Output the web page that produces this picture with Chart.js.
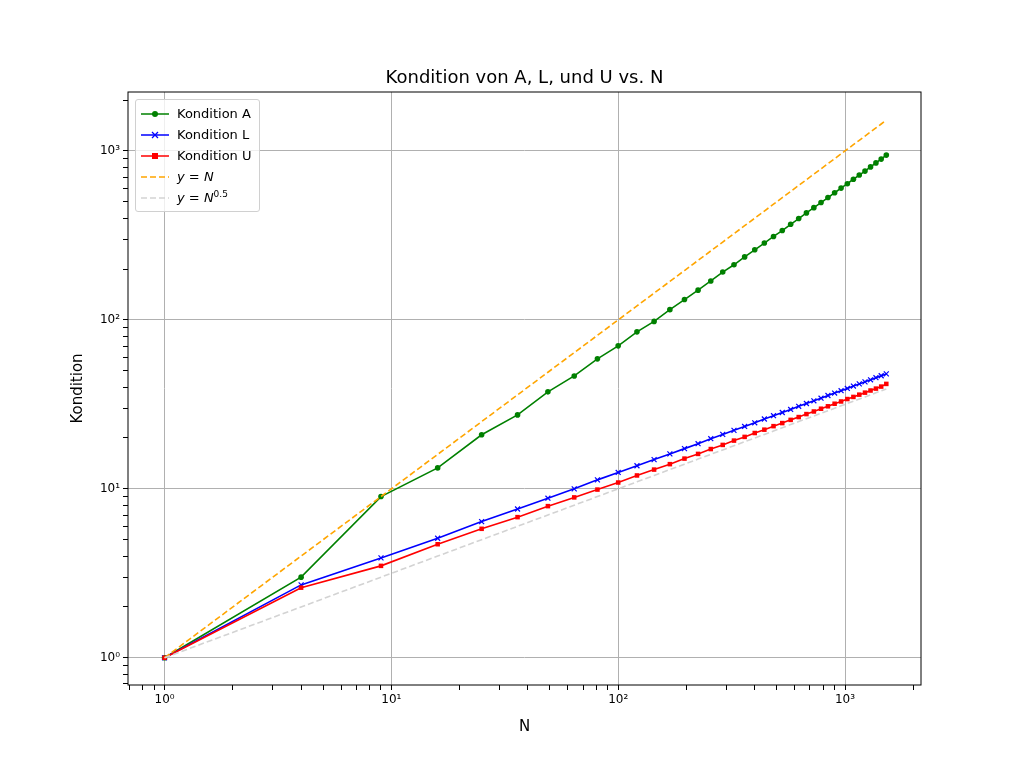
<!DOCTYPE html>
<html>
<head>
<meta charset="utf-8">
<script src="https://cdn.jsdelivr.net/npm/chart.js@4"></script>
<style>
  body { margin: 0; background: #fff; font-family: "DejaVu Sans", sans-serif; }
  #wrap { position: relative; width: 1024px; height: 770px; }
  #legend { position: absolute; left: 135px; top: 99px; border: 1px solid #d0d0d0; border-radius: 3px;
            background: rgba(255,255,255,0.8); padding: 3px 8px 3px 5px; font-size: 13px; }
  #legend div { display: flex; align-items: center; height: 21px; }
  #legend svg { margin-right: 8px; }
</style>
</head>
<body>
<div id="wrap">
<canvas id="KondChart" width="1024" height="770"></canvas>
<div id="legend"></div>
</div>
<script>
const nList = [1, 4, 9, 16, 25, 36, 49, 64, 81, 100, 121, 144, 169, 196, 225, 256, 289, 324, 361, 400,
  441, 484, 529, 576, 625, 676, 729, 784, 841, 900, 961, 1024, 1089, 1156, 1225, 1296, 1369, 1444, 1521];
const kondA = [1, 3, 9, 13.3, 20.9, 27.4, 37.5, 46.6, 58.8, 70.2, 85, 98, 115, 132, 150, 170, 192, 212, 236, 260,
  285, 312, 338, 368, 398, 430, 462, 495, 530, 566, 603, 640, 680, 720, 760, 805, 850, 895, 945];
const kondL = [1, 2.7, 3.9, 5.1, 6.4, 7.6, 8.8, 10.0, 11.3, 12.5, 13.7, 14.9, 16.1, 17.3, 18.5, 19.8, 21, 22.2, 23.4, 24.6,
  25.9, 27.1, 28.3, 29.5, 30.8, 32, 33.2, 34.4, 35.7, 36.9, 38.1, 39.3, 40.6, 41.8, 43, 44.2, 45.5, 46.7, 47.9];
const kondU = [1, 2.6, 3.5, 4.7, 5.8, 6.8, 7.9, 8.9, 9.9, 10.9, 12, 13, 14, 15.1, 16.1, 17.2, 18.2, 19.3, 20.3, 21.4,
  22.4, 23.5, 24.5, 25.6, 26.6, 27.7, 28.7, 29.8, 30.8, 31.9, 32.9, 34, 35, 36.1, 37.1, 38.2, 39.2, 40.3, 41.8];
const refN = [1, 4, 9, 16, 25, 36, 49, 64, 81, 100, 121, 144, 169, 196, 225, 256, 289, 324, 361, 400,
  441, 484, 529, 576, 625, 676, 729, 784, 841, 900, 961, 1024, 1089, 1156, 1225, 1296, 1369, 1444, 1521];
const refSqrt = [1, 2, 3, 4, 5, 6, 7, 8, 9, 10, 11, 12, 13, 14, 15, 16, 17, 18, 19, 20,
  21, 22, 23, 24, 25, 26, 27, 28, 29, 30, 31, 32, 33, 34, 35, 36, 37, 38, 39];
const decadeLabels = {1: '10⁰', 10: '10¹', 100: '10²', 1000: '10³'};

function pts(ys) { return nList.map((n, i) => ({x: n, y: ys[i]})); }

const series = [
  {label: 'Kondition A', data: pts(kondA), borderColor: 'green', backgroundColor: 'green', pointStyle: 'circle', pointRadius: 2.8, order: 5},
  {label: 'Kondition L', data: pts(kondL), borderColor: 'blue', backgroundColor: 'blue', pointStyle: 'crossRot', pointRadius: 3.5, pointBorderWidth: 1.2, order: 4},
  {label: 'Kondition U', data: pts(kondU), borderColor: 'red', backgroundColor: 'red', pointStyle: 'rect', pointRadius: 3.2, order: 3},
  {label: 'y = N', data: pts(refN), borderColor: 'orange', borderDash: [6, 3], pointRadius: 0, order: 2},
  {label: 'y = N^0.5', data: pts(refSqrt), borderColor: 'lightgray', borderDash: [6, 3], pointRadius: 0, order: 1}
];

function logTicks(scale, lo, hi) {
  const t = [];
  for (let d = 0.1; d <= 10000; d *= 10) {
    for (let m = 1; m < 10; m++) {
      const v = +(m * d).toPrecision(3);
      if (v >= lo && v <= hi) t.push({value: v});
    }
  }
  scale.ticks = t;
}
const isDecade = v => decadeLabels[v] !== undefined;

const titlePlugin = {
  id: 'topTitle',
  afterDraw(chart) {
    const c = chart.ctx;
    const a = chart.chartArea;
    c.save();
    c.fillStyle = '#000';
    c.textAlign = 'center';
    c.textBaseline = 'middle';
    c.font = '18px "DejaVu Sans"';
    c.fillText('Kondition von A, L, und U vs. N', (a.left + a.right) / 2, 78);
    c.font = '15px "DejaVu Sans"';
    c.fillText('N', (a.left + a.right) / 2, 727);
    c.translate(78, (a.top + a.bottom) / 2);
    c.rotate(-Math.PI / 2);
    c.fillText('Kondition', 0, 0);
    c.restore();
    c.save();
    c.strokeStyle = '#000';
    c.lineWidth = 1;
    c.strokeRect(a.left, a.top, a.right - a.left, a.bottom - a.top);
    c.restore();
  }
};

function axisCfg(lo, hi) {
  return {
    type: 'logarithmic', min: lo, max: hi,
    afterBuildTicks: s => logTicks(s, lo, hi),
    ticks: {
      autoSkip: false, maxRotation: 0, color: '#000',
      font: {size: 12, family: 'DejaVu Sans'},
      callback: v => decadeLabels[v] || ''
    },
    grid: {
      color: ctx => isDecade(ctx.tick && ctx.tick.value) ? '#b0b0b0' : 'rgba(0,0,0,0)',
      tickColor: '#000',
      tickLength: 5,
      drawTicks: true
    },
    border: {display: false},
    title: {display: false}
  };
}

const xAxis = axisCfg(0.69, 2163);
xAxis.afterFit = s => { s.height = 85; };
const yAxis = axisCfg(0.69, 2234);
yAxis.afterFit = s => { s.width = 128; };

new Chart(document.getElementById('KondChart').getContext('2d'), {
  type: 'line',
  data: {datasets: series.map(s => Object.assign({borderWidth: 1.6, pointBorderWidth: 0, fill: false, tension: 0}, s))},
  options: {
    responsive: false, animation: false,
    layout: {padding: {left: 0, right: 103, top: 92, bottom: 0}},
    plugins: {legend: {display: false}, title: {display: false}, tooltip: {enabled: false}},
    scales: {x: xAxis, y: yAxis}
  },
  plugins: [titlePlugin]
});

// legend overlay
const legendItems = [
  ['green', 'none', 'circle', 'Kondition A'],
  ['blue', 'none', 'cross', 'Kondition L'],
  ['red', 'none', 'square', 'Kondition U'],
  ['orange', '6,3', '', '<i>y</i> = <i>N</i>'],
  ['lightgray', '6,3', '', '<i>y</i> = <i>N</i><sup style="font-size:9px">0.5</sup>']
];
const lg = document.getElementById('legend');
legendItems.forEach(([col, dash, mk, txt]) => {
  let m = '';
  if (mk === 'circle') m = `<circle cx="14" cy="6" r="3" fill="${col}"/>`;
  if (mk === 'square') m = `<rect x="11" y="3" width="6" height="6" fill="${col}"/>`;
  if (mk === 'cross') m = `<path d="M11 3L17 9M17 3L11 9" stroke="${col}" stroke-width="1.3"/>`;
  lg.innerHTML += `<div><svg width="28" height="12"><line x1="0" y1="6" x2="28" y2="6" stroke="${col}" stroke-width="1.5" stroke-dasharray="${dash}"/>${m}</svg><span>${txt}</span></div>`;
});
</script>
</body>
</html>
